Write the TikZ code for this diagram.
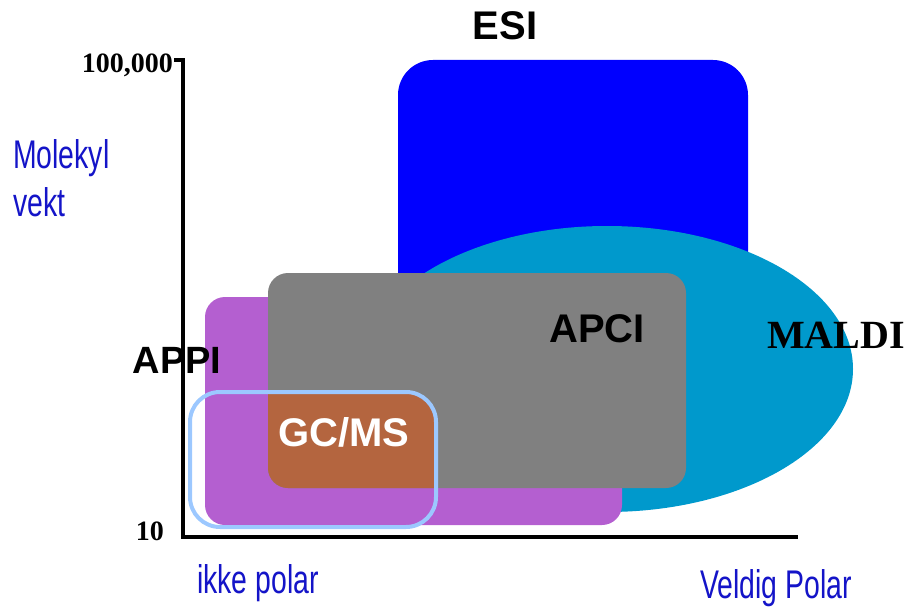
\documentclass[tikz,border=0pt]{standalone}
\usepackage{fontspec}
\setmainfont{Liberation Serif}
\setsansfont{Liberation Sans}
\newfontfamily\narrowsans[FakeStretch=0.71]{Liberation Sans}
\definecolor{esiblue}{RGB}{0,0,255}
\definecolor{maldicol}{RGB}{0,153,204}
\definecolor{appicol}{RGB}{180,95,208}
\definecolor{apcicol}{RGB}{128,128,128}
\definecolor{gcmscol}{RGB}{180,101,63}
\definecolor{gcmsline}{RGB}{156,200,255}
\definecolor{axistext}{RGB}{20,20,200}
\tikzset{
  method/.style={font=\sffamily\bfseries\fontsize{40}{40}\selectfont, inner sep=0pt},
  ticklabel/.style={font=\rmfamily\bfseries\fontsize{28}{28}\selectfont, inner sep=0pt},
  axislabel/.style={font=\narrowsans\fontsize{40}{49}\selectfont, text=axistext, inner sep=0pt, align=left}
}
\begin{document}
\begin{tikzpicture}[x=1pt, y=-1pt]
\useasboundingbox (0,0) rectangle (911,607);

% Regions, back to front
\fill[esiblue, rounded corners=35pt] (398,60) rectangle (748,330);
\fill[maldicol] (607,369) ellipse [x radius=246pt, y radius=143pt];
\fill[appicol, rounded corners=20pt] (205,297) rectangle (622,525);
\fill[apcicol, rounded corners=20pt] (268,273) rectangle (686,488);
\begin{scope}
  \clip[rounded corners=30pt] (190,392) rectangle (436,527);
  \fill[gcmscol, rounded corners=20pt] (268,273) rectangle (686,488);
\end{scope}
\draw[gcmsline, line width=4pt, rounded corners=30pt] (190,392) rectangle (436,527);

% Axes
\draw[line width=4.5pt] (174,60) -- (183,60) -- (183,537) -- (798,537);
\node[ticklabel, anchor=base east] (ymax) at (173,73) {100,000};
\node[ticklabel, anchor=base east] (ymin) at (164,540) {10};

% Method labels
\node[method] (esi) at (505,26) {ESI};
\node[method, font=\sffamily\bfseries\fontsize{38}{38}\selectfont] (appi) at (177,360) {APPI};
\node[method] (apci) at (597,329) {APCI};
\node[method, font=\rmfamily\bfseries\fontsize{40}{40}\selectfont] (maldi) at (836,335) {MALDI};
\node[method, text=white] (gcms) at (344,432) {GC/MS};

% Axis labels
\node[axislabel, anchor=base west] (mw) at (13,217) {Molekyl\\vekt};
\node[axislabel, anchor=base west] (nonpolar) at (197,593) {ikke polar};
\node[axislabel, anchor=base west] (polar) at (700,598) {Veldig Polar};
\end{tikzpicture}
\end{document}
